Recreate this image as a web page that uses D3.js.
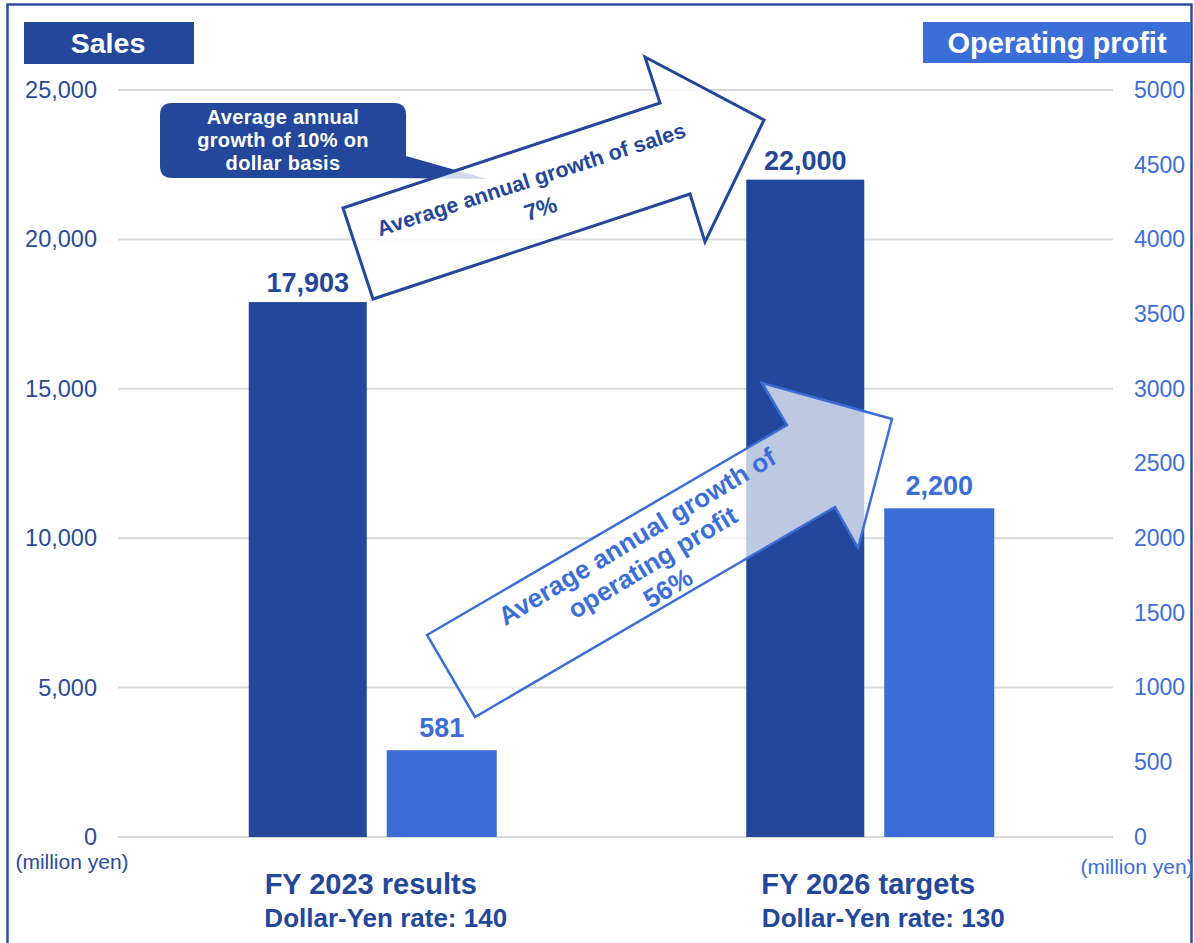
<!DOCTYPE html>
<html>
<head>
<meta charset="utf-8">
<script src="https://cdn.jsdelivr.net/npm/d3@7"></script>
<style>
  html, body { margin: 0; padding: 0; background: #fff; }
  svg { display: block; font-family: "Liberation Sans", Arial, sans-serif; }
</style>
</head>
<body>
<div id="chart"></div>
<script>
const categories = ['FY 2023 results', 'FY 2026 targets'];
const rateLabels = ['Dollar-Yen rate: 140', 'Dollar-Yen rate: 130'];
const sales = [17903, 22000];
const profit = [581, 2200];
const salesTicks = [0, 5000, 10000, 15000, 20000, 25000];
const profitTicks = [0, 500, 1000, 1500, 2000, 2500, 3000, 3500, 4000, 4500, 5000];

const W = 1194, H = 943;
const dark = '#22479B', light = '#3B6ED6';

const svg = d3.select('#chart').append('svg')
  .attr('width', W)
  .attr('height', H);

// outer frame
svg.append('rect')
  .attr('x', 7.5).attr('y', 4.5)
  .attr('width', 1184).attr('height', 980)
  .attr('fill', 'none')
  .attr('stroke', '#2B4C9E')
  .attr('stroke-width', 2.5);

const yLeft = d3.scaleLinear().domain([0, 25000]).range([837, 90]);
const yRight = d3.scaleLinear().domain([0, 5000]).range([837, 90]);
const x = d3.scaleBand().domain(categories).range([122, 1117]);
const inner = d3.scaleBand().domain(['sales', 'profit'])
  .range([-122, 126]).paddingInner(0.092);
const profitWidth = inner.bandwidth() - 8;

// gridlines
svg.append('g')
  .selectAll('line')
  .data(salesTicks)
  .enter()
  .append('line')
    .attr('x1', 118).attr('x2', 1113)
    .attr('y1', d => yLeft(d)).attr('y2', d => yLeft(d))
    .attr('stroke', '#D9D9D9')
    .attr('stroke-width', 2);

// left axis
const leftAxis = d3.axisLeft(yLeft)
  .tickValues(salesTicks)
  .tickFormat(d3.format(','))
  .tickSize(0)
  .tickPadding(0);

svg.append('g')
  .attr('transform', 'translate(97,0)')
  .call(leftAxis)
  .call(g => g.select('.domain').remove())
  .call(g => g.selectAll('text')
    .attr('fill', '#2A4A9A')
    .style('font-size', '23.5px')
    .style('font-family', '"Liberation Sans", Arial, sans-serif'));

// right axis
const rightAxis = d3.axisRight(yRight)
  .tickValues(profitTicks)
  .tickFormat(d3.format('d'))
  .tickSize(0)
  .tickPadding(0);

svg.append('g')
  .attr('transform', 'translate(1134,0)')
  .call(rightAxis)
  .call(g => g.select('.domain').remove())
  .call(g => g.selectAll('text')
    .attr('fill', light)
    .style('font-size', '23px')
    .style('font-family', '"Liberation Sans", Arial, sans-serif'));

// unit labels
svg.append('text')
  .attr('x', 72).attr('y', 869)
  .attr('text-anchor', 'middle')
  .attr('fill', '#2A4A9A')
  .style('font-size', '21px')
  .text('(million yen)');

svg.append('text')
  .attr('x', 1137).attr('y', 874)
  .attr('text-anchor', 'middle')
  .attr('fill', light)
  .style('font-size', '21px')
  .text('(million yen)');

// header boxes
svg.append('rect')
  .attr('x', 24).attr('y', 22).attr('width', 170).attr('height', 42)
  .attr('fill', dark);
svg.append('text')
  .attr('x', 108).attr('y', 53)
  .attr('text-anchor', 'middle')
  .attr('fill', '#fff')
  .style('font-size', '28.5px').style('font-weight', 'bold')
  .text('Sales');

svg.append('rect')
  .attr('x', 923).attr('y', 22).attr('width', 268).attr('height', 41)
  .attr('fill', light);
svg.append('text')
  .attr('x', 1057).attr('y', 53)
  .attr('text-anchor', 'middle')
  .attr('fill', '#fff')
  .style('font-size', '29px').style('font-weight', 'bold')
  .text('Operating profit');

// bars
const groups = svg.append('g')
  .selectAll('g')
  .data(categories)
  .enter()
  .append('g')
    .attr('transform', d => 'translate(' + (x(d) + x.bandwidth() / 2) + ',0)');

groups.append('rect')
  .attr('x', inner('sales'))
  .attr('width', inner.bandwidth())
  .attr('y', (d, i) => yLeft(sales[i]))
  .attr('height', (d, i) => yLeft(0) - yLeft(sales[i]))
  .attr('fill', dark);

groups.append('rect')
  .attr('x', inner('profit') + inner.bandwidth() - profitWidth)
  .attr('width', profitWidth)
  .attr('y', (d, i) => yRight(profit[i]))
  .attr('height', (d, i) => yRight(0) - yRight(profit[i]))
  .attr('fill', light);

groups.append('text')
  .attr('x', inner('sales') + inner.bandwidth() / 2)
  .attr('y', (d, i) => yLeft(sales[i]) - 10)
  .attr('text-anchor', 'middle')
  .attr('fill', dark)
  .style('font-size', '27px').style('font-weight', 'bold')
  .text((d, i) => d3.format(',')(sales[i]));

groups.append('text')
  .attr('x', inner('profit') + inner.bandwidth() - profitWidth / 2)
  .attr('y', (d, i) => yRight(profit[i]) - 13)
  .attr('text-anchor', 'middle')
  .attr('fill', light)
  .style('font-size', '27px').style('font-weight', 'bold')
  .text((d, i) => d3.format(',')(profit[i]));

groups.append('text')
  .attr('x', 0).attr('y', 894)
  .attr('text-anchor', 'middle')
  .attr('fill', dark)
  .style('font-size', '29px').style('font-weight', 'bold')
  .text(d => d);

groups.append('text')
  .attr('x', 15).attr('y', 927)
  .attr('text-anchor', 'middle')
  .attr('fill', dark)
  .style('font-size', '26px').style('font-weight', 'bold')
  .text((d, i) => rateLabels[i]);

// callout
const callout = 'M172,103 H394 Q406,103 406,115 V156 L487,179 L390,178 H172 Q160,178 160,166 V115 Q160,103 172,103 Z';
svg.append('path')
  .attr('d', callout)
  .attr('fill', dark);

svg.append('text')
  .attr('x', 283).attr('y', 124)
  .attr('text-anchor', 'middle')
  .attr('fill', '#fff')
  .style('font-size', '20px').style('font-weight', 'bold')
  .style('letter-spacing', '0.3px')
  .selectAll('tspan')
  .data(['Average annual', 'growth of 10% on', 'dollar basis'])
  .enter()
  .append('tspan')
    .attr('x', 283)
    .attr('dy', (d, i) => i ? 23 : 0)
    .text(d => d);

// sales growth arrow
const line = d3.line();
const arrowSales = [[343, 208], [660, 103], [645, 57], [764, 120], [705, 242], [690, 194], [373, 299]];
svg.append('path')
  .attr('d', line(arrowSales) + 'Z')
  .attr('fill', '#fff')
  .attr('fill-opacity', 0.8)
  .attr('stroke', dark)
  .attr('stroke-width', 3)
  .attr('stroke-linejoin', 'miter');

svg.append('text')
  .attr('transform', 'translate(543,216) rotate(-18)')
  .attr('text-anchor', 'middle')
  .attr('fill', dark)
  .style('font-size', '21.5px').style('font-weight', 'bold')
  .selectAll('tspan')
  .data(['Average annual growth of sales', '7%'])
  .enter()
  .append('tspan')
    .attr('x', 0)
    .attr('y', (d, i) => i ? 0 : -31)
    .style('font-size', (d, i) => i ? '23px' : null)
    .text(d => d);

// profit growth arrow
const arrowProfit = [[427, 635], [787, 425], [762, 383], [892, 419], [858, 548], [835, 507], [475, 717]];
svg.append('path')
  .attr('d', line(arrowProfit) + 'Z')
  .attr('fill', '#fff')
  .attr('fill-opacity', 0.7)
  .attr('stroke', light)
  .attr('stroke-width', 2.5);

svg.append('text')
  .attr('transform', 'translate(657,570) rotate(-31)')
  .attr('text-anchor', 'middle')
  .attr('fill', light)
  .style('font-size', '26px').style('font-weight', 'bold')
  .selectAll('tspan')
  .data(['Average annual growth of', 'operating profit', '56%'])
  .enter()
  .append('tspan')
    .attr('x', 0)
    .attr('y', (d, i) => (i - 1) * 30)
    .text(d => d);
</script>
</body>
</html>
